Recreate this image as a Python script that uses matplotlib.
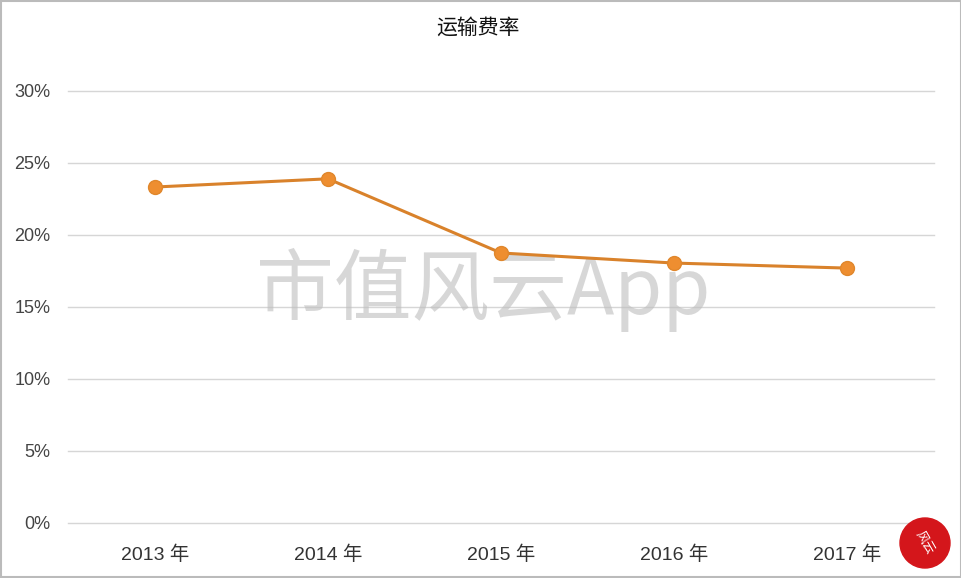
import matplotlib
matplotlib.use("Agg")
import matplotlib.pyplot as plt
from matplotlib.patches import Ellipse, Rectangle

years = ["2013 年", "2014 年", "2015 年", "2016 年", "2017 年"]
rates = [0.2333, 0.2390, 0.1875, 0.1805, 0.1770]
yticks = [0, 0.05, 0.10, 0.15, 0.20, 0.25, 0.30]
ytick_labels = ["0%", "5%", "10%", "15%", "20%", "25%", "30%"]
title = "运输费率"
watermark = "市值风云App"

plt.rcParams['font.family'] = ["Liberation Sans", "Noto Sans CJK SC", "DejaVu Sans"]

W, H = 962, 578
fig = plt.figure(figsize=(W / 100, H / 100), dpi=100)
fig.patch.set_facecolor("white")
ax = fig.add_axes([0.0712, 0.0952, 0.8992, 0.7474])

x = list(range(len(years)))
ax.plot(x, rates, color="#D9822B", lw=2.2, marker="o", ms=10,
        markerfacecolor="#EE8E30", markeredgecolor="#E0872C", zorder=3)

ax.set_xlim(-0.5, len(years) - 0.5)
ax.set_ylim(0, 0.30)
ax.set_yticks(yticks)
ax.set_yticklabels(ytick_labels, fontsize=13, color="#444444")
ax.set_xticks(x)
ax.set_xticklabels(years, fontsize=14, color="#333333")
ax.tick_params(axis="both", length=0)
ax.tick_params(axis="y", pad=13)
ax.tick_params(axis="x", pad=16)
ax.grid(axis="y", color="#D6D6D6", lw=1.0)
for gl in ax.get_ygridlines():
    gl.set_clip_on(False)
ax.set_axisbelow(True)
for s in ax.spines.values():
    s.set_visible(False)

fig.text(0.497, 0.952, title, ha="center", va="center", fontsize=15,
         family=["Noto Sans CJK SC"], color="#111111")

ax.text(0.48, 0.54, watermark, transform=ax.transAxes, ha="center", va="center",
        fontsize=56, color="#BDBDBD", alpha=0.6, family=["Noto Sans CJK SC"], zorder=1)

# seal
cx, cy, r = 925 / W, (H - 543) / H, 25
fig.patches.append(Ellipse((cx, cy), 2 * r / W, 2 * r / H, transform=fig.transFigure,
                           color="#D4161B", zorder=5))
fig.text(cx, cy, "风云", ha="center", va="center", fontsize=9, color="white",
         family=["Noto Sans CJK SC"], rotation=-60, zorder=6)

# frame
fig.patches.append(Rectangle((0.001, 0.002), 0.998, 0.996, transform=fig.transFigure,
                             fill=False, edgecolor="#BBBBBB", lw=1.5, zorder=7))

fig.savefig("out.png", dpi=100)
